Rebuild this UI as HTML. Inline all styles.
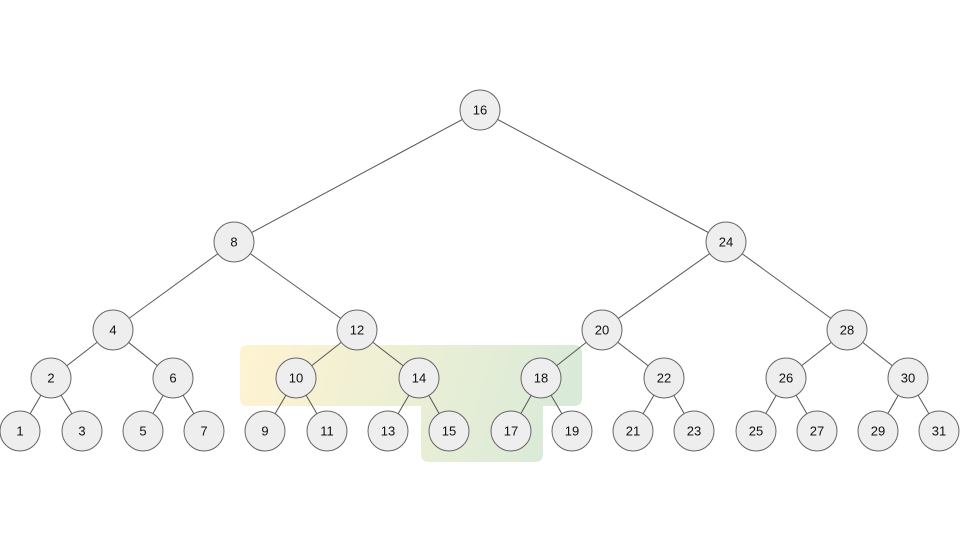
<!DOCTYPE html>
<html><head><meta charset="utf-8"><style>body{margin:0;background:#fff}svg{display:block}text{font-family:"Liberation Sans",sans-serif;font-size:13px;fill:#111;text-anchor:middle;dominant-baseline:central}</style></head><body>
<svg width="960" height="540" viewBox="0 0 960 540">
<defs>
<linearGradient id="g2" gradientUnits="userSpaceOnUse" x1="240" y1="345" x2="560" y2="440"><stop offset="0" stop-color="#fff2cc"/><stop offset="1" stop-color="#d5e8d4"/></linearGradient></defs>
<path d="M248,345 H574 Q582,345 582,353 V398 Q582,406 574,406 H543 V454 Q543,462 535,462 H429 Q421,462 421,454 V406 H248 Q240,406 240,398 V353 Q240,345 248,345 Z" fill="url(#g2)" opacity="0.9"/>
<g stroke="#555" stroke-width="1">
<line x1="480" y1="110" x2="234" y2="242"/><line x1="480" y1="110" x2="726" y2="242"/>
<line x1="234" y1="242" x2="113" y2="330"/><line x1="234" y1="242" x2="357" y2="330"/>
<line x1="726" y1="242" x2="602" y2="330"/><line x1="726" y1="242" x2="847" y2="330"/>
<line x1="113" y1="330" x2="51" y2="378"/><line x1="113" y1="330" x2="173" y2="378"/>
<line x1="357" y1="330" x2="296" y2="378"/><line x1="357" y1="330" x2="419" y2="378"/>
<line x1="602" y1="330" x2="541" y2="378"/><line x1="602" y1="330" x2="664" y2="378"/>
<line x1="847" y1="330" x2="786" y2="378"/><line x1="847" y1="330" x2="908" y2="378"/>
<line x1="51" y1="378" x2="20" y2="431"/><line x1="51" y1="378" x2="82" y2="431"/>
<line x1="173" y1="378" x2="143" y2="431"/><line x1="173" y1="378" x2="204" y2="431"/>
<line x1="296" y1="378" x2="265" y2="431"/><line x1="296" y1="378" x2="327" y2="431"/>
<line x1="419" y1="378" x2="388" y2="431"/><line x1="419" y1="378" x2="449" y2="431"/>
<line x1="541" y1="378" x2="511" y2="431"/><line x1="541" y1="378" x2="572" y2="431"/>
<line x1="664" y1="378" x2="633" y2="431"/><line x1="664" y1="378" x2="694" y2="431"/>
<line x1="786" y1="378" x2="756" y2="431"/><line x1="786" y1="378" x2="817" y2="431"/>
<line x1="908" y1="378" x2="878" y2="431"/><line x1="908" y1="378" x2="939" y2="431"/>
</g>
<g fill="#eeeeee" stroke="#666" stroke-width="1">
<circle cx="480" cy="110" r="20"/><circle cx="234" cy="242" r="20"/><circle cx="726" cy="242" r="20"/>
<circle cx="113" cy="330" r="20"/><circle cx="357" cy="330" r="20"/><circle cx="602" cy="330" r="20"/><circle cx="847" cy="330" r="20"/>
<circle cx="51" cy="378" r="20"/><circle cx="173" cy="378" r="20"/><circle cx="296" cy="378" r="20"/><circle cx="419" cy="378" r="20"/><circle cx="541" cy="378" r="20"/><circle cx="664" cy="378" r="20"/><circle cx="786" cy="378" r="20"/><circle cx="908" cy="378" r="20"/>
<circle cx="20" cy="431" r="20"/><circle cx="82" cy="431" r="20"/><circle cx="143" cy="431" r="20"/><circle cx="204" cy="431" r="20"/><circle cx="265" cy="431" r="20"/><circle cx="327" cy="431" r="20"/><circle cx="388" cy="431" r="20"/><circle cx="449" cy="431" r="20"/><circle cx="511" cy="431" r="20"/><circle cx="572" cy="431" r="20"/><circle cx="633" cy="431" r="20"/><circle cx="694" cy="431" r="20"/><circle cx="756" cy="431" r="20"/><circle cx="817" cy="431" r="20"/><circle cx="878" cy="431" r="20"/><circle cx="939" cy="431" r="20"/>
</g>
<text x="480" y="110">16</text><text x="234" y="242">8</text><text x="726" y="242">24</text>
<text x="113" y="330">4</text><text x="357" y="330">12</text><text x="602" y="330">20</text><text x="847" y="330">28</text>
<text x="51" y="378">2</text><text x="173" y="378">6</text><text x="296" y="378">10</text><text x="419" y="378">14</text><text x="541" y="378">18</text><text x="664" y="378">22</text><text x="786" y="378">26</text><text x="908" y="378">30</text>
<text x="20" y="431">1</text><text x="82" y="431">3</text><text x="143" y="431">5</text><text x="204" y="431">7</text><text x="265" y="431">9</text><text x="327" y="431">11</text><text x="388" y="431">13</text><text x="449" y="431">15</text><text x="511" y="431">17</text><text x="572" y="431">19</text><text x="633" y="431">21</text><text x="694" y="431">23</text><text x="756" y="431">25</text><text x="817" y="431">27</text><text x="878" y="431">29</text><text x="939" y="431">31</text>
</svg>
</body></html>
